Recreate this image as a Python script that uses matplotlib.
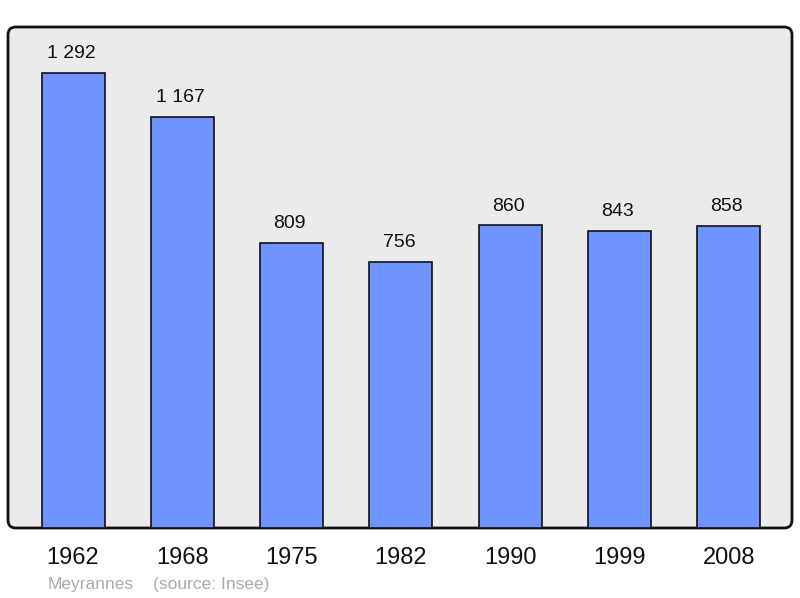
import matplotlib
matplotlib.use("Agg")
import matplotlib.pyplot as plt
from matplotlib.patches import FancyBboxPatch

years = ["1962", "1968", "1975", "1982", "1990", "1999", "2008"]
population = [1292, 1167, 809, 756, 860, 843, 858]
value_labels = ["1 292", "1 167", "809", "756", "860", "843", "858"]

plt.rcParams['font.family'] = ['Liberation Sans', 'DejaVu Sans']

fig = plt.figure(figsize=(8, 5.98), dpi=100)
ax = fig.add_axes([8/800, 1 - 528/598, 784/800, 501/598])
ax.set_xlim(-0.595, 6.578)
ax.set_ylim(0, 1422)
ax.patch.set_visible(False)
for s in ax.spines.values():
    s.set_visible(False)
ax.set_xticks([])
ax.set_yticks([])

# rounded frame behind the bars
frame = FancyBboxPatch((0, 0), 1, 1, boxstyle="round,pad=0,rounding_size=0.01",
                       transform=ax.transAxes, facecolor="#ebebeb",
                       edgecolor="#111111", linewidth=2, zorder=0, clip_on=False,
                       mutation_aspect=784/501)
ax.add_patch(frame)

x = range(len(years))
ax.bar(x, population, width=0.577, color="#7094ff", edgecolor="#111111",
       linewidth=1.2, zorder=2)

for i, v in enumerate(population):
    ax.annotate(value_labels[i], (i, v), xytext=(-2, 19), textcoords="offset pixels",
                ha="center", va="center", fontsize=14, color="#111111")
    ax.annotate(years[i], (i, 0), xytext=(0, -30), textcoords="offset pixels",
                ha="center", va="center", fontsize=17, color="#111111",
                annotation_clip=False)

fig.text(48/800, 1 - 584/598, "Meyrannes", fontsize=12.5, color="#aaaaaa",
         ha="left", va="center")
fig.text(153/800, 1 - 584/598, "(source: Insee)", fontsize=12.5, color="#aaaaaa",
         ha="left", va="center")

fig.savefig("out.png", dpi=100)
